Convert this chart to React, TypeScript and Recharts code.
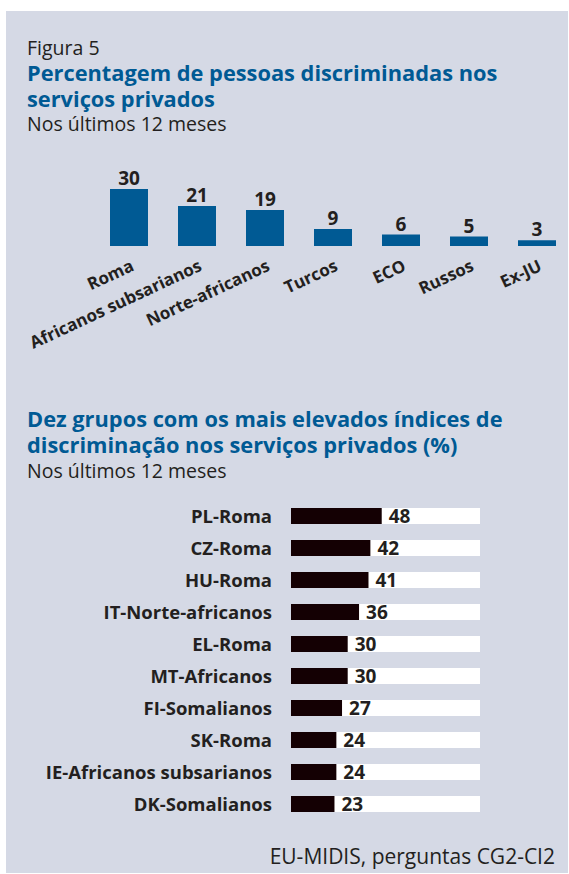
import React from "react";
import { BarChart, Bar, XAxis, YAxis, LabelList } from "recharts";

const groups = ["Roma", "Africanos subsarianos", "Norte-africanos", "Turcos", "ECO", "Russos", "Ex-JU"];
const groupValues = [30, 21, 19, 9, 6, 5, 3];

const topGroups = [
  "PL-Roma",
  "CZ-Roma",
  "HU-Roma",
  "IT-Norte-africanos",
  "EL-Roma",
  "MT-Africanos",
  "FI-Somalianos",
  "SK-Roma",
  "IE-Africanos subsarianos",
  "DK-Somalianos",
];
const topValues = [48, 42, 41, 36, 30, 30, 27, 24, 24, 23];

const data1 = groups.map((name, i) => ({ name, value: groupValues[i] }));
const data2 = topGroups.map((name, i) => ({ name, value: topValues[i] }));

const FONT = "'Open Sans', 'Noto Sans', sans-serif";
const DARK = "#231f20";
const BLUE = "#005a94";
const PANEL = "#d5d9e5";

const RotTick = (props: any) => {
  const { x, y, payload } = props;
  return (
    <g transform={`translate(${x + 6},${y + 24})`}>
      <text
        x={0}
        y={0}
        textAnchor="end"
        transform="rotate(-25)"
        fill={DARK}
        fontFamily={FONT}
        fontWeight={700}
        fontSize={17}
      >
        {payload.value}
      </text>
    </g>
  );
};

export default function App() {
  return (
    <div
      style={{
        position: "absolute",
        left: 0,
        top: 0,
        width: 569,
        height: 874,
        overflow: "hidden",
        background: "#fff",
      }}
    >
      <div
        style={{
          position: "absolute",
          left: 6,
          top: 11,
          width: 562,
          height: 862,
          background: PANEL,
        }}
      />
      <svg
        width={569}
        height={874}
        style={{ position: "absolute", left: 0, top: 0 }}
      >
        <g fontFamily={FONT}>
          <text x={27} y={55} fontSize={19.5} fill={DARK}>
            Figura 5
          </text>
          <text x={27} y={81} fontSize={21.8} fontWeight={700} fill={BLUE}>
            Percentagem de pessoas discriminadas nos
          </text>
          <text x={27} y={107} fontSize={21.8} fontWeight={700} fill={BLUE}>
            serviços privados
          </text>
          <text x={27} y={131} fontSize={19.5} fill={DARK}>
            Nos últimos 12 meses
          </text>
          <text x={27} y={427} fontSize={21.8} fontWeight={700} fill={BLUE}>
            Dez grupos com os mais elevados índices de
          </text>
          <text x={27} y={453} fontSize={21.8} fontWeight={700} fill={BLUE}>
            discriminação nos serviços privados (%)
          </text>
          <text x={27} y={478} fontSize={19.5} fill={DARK}>
            Nos últimos 12 meses
          </text>
          <text x={555} y={864} fontSize={21} fill={DARK} textAnchor="end">
            EU-MIDIS, perguntas CG2-CI2
          </text>
        </g>
      </svg>

      <div style={{ position: "absolute", left: 0, top: 150 }}>
        <BarChart
          width={580}
          height={200}
          data={data1}
          margin={{ top: 39, right: 9, bottom: 0, left: 95 }}
          barSize={38}
        >
          <XAxis
            dataKey="name"
            axisLine={false}
            tickLine={false}
            tickSize={0}
            tickMargin={0}
            height={104}
            interval={0}
            tick={<RotTick />}
          />
          <YAxis hide domain={[0, 30]} />
          <Bar dataKey="value" fill={BLUE} isAnimationActive={false}>
            <LabelList
              dataKey="value"
              position="top"
              offset={4}
              fill={DARK}
              fontFamily={FONT}
              fontWeight={700}
              fontSize={19}
            />
          </Bar>
        </BarChart>
      </div>

      <div style={{ position: "absolute", left: 0, top: 490 }}>
        <BarChart
          width={569}
          height={340}
          data={data2}
          layout="vertical"
          margin={{ top: 10, right: 89, bottom: 10, left: 0 }}
          barSize={16}
        >
          <XAxis type="number" hide domain={[0, 100]} />
          <YAxis
            type="category"
            dataKey="name"
            width={291}
            axisLine={false}
            tickLine={false}
            tickSize={0}
            tickMargin={19}
            interval={0}
            tick={{
              fill: DARK,
              fontFamily: FONT,
              fontWeight: 700,
              fontSize: 18.5,
            }}
          />
          <Bar
            dataKey="value"
            fill="#140003"
            background={{ fill: "#ffffff" }}
            isAnimationActive={false}
          >
            <LabelList
              dataKey="value"
              position="right"
              offset={7}
              fill={DARK}
              fontFamily={FONT}
              fontWeight={700}
              fontSize={19}
            />
          </Bar>
        </BarChart>
      </div>
    </div>
  );
}
